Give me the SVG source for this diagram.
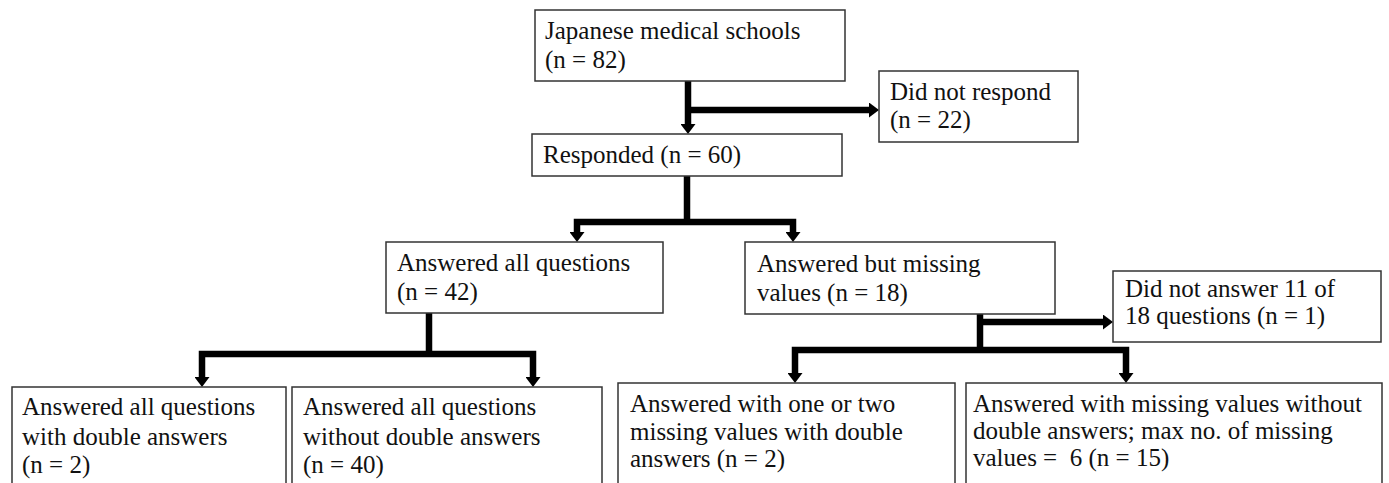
<svg xmlns="http://www.w3.org/2000/svg" width="1389" height="483" viewBox="0 0 1389 483">
<style>
.box{fill:#fff;stroke:#333;stroke-width:1.5}
.t{font-family:"Liberation Serif","Times New Roman",serif;font-size:25px;fill:#111}
.c{fill:none;stroke:#000;stroke-width:6.5;stroke-linejoin:miter}
</style>
<defs>
<marker id="ah" markerUnits="userSpaceOnUse" markerWidth="10" markerHeight="15" viewBox="0 0 10 15" refX="0" refY="7.5" orient="auto">
<path d="M0,0 L10,7.5 L0,15 z" fill="#000"/>
</marker>
</defs>
<rect width="1389" height="483" fill="#fff"/>
<g id="connectors">
<path class="c" d="M688,81 V124" marker-end="url(#ah)"/>
<path class="c" d="M688,110 H869" marker-end="url(#ah)"/>
<path class="c" d="M687,176 V222"/>
<path class="c" d="M687,222 H577 V232" marker-end="url(#ah)"/>
<path class="c" d="M687,222 H793 V232" marker-end="url(#ah)"/>
<path class="c" d="M429,313 V354"/>
<path class="c" d="M429,354 H202 V377" marker-end="url(#ah)"/>
<path class="c" d="M429,354 H533 V377" marker-end="url(#ah)"/>
<path class="c" d="M980,314 V350"/>
<path class="c" d="M980,322 H1103" marker-end="url(#ah)"/>
<path class="c" d="M980,350 H795 V373" marker-end="url(#ah)"/>
<path class="c" d="M980,350 H1126 V373" marker-end="url(#ah)"/>
</g>
<g id="n1"><rect class="box" x="535" y="10" width="310" height="71"/>
<text class="t" x="545" y="39">Japanese medical schools</text><text class="t" x="545" y="68">(n = 82)</text></g>
<g id="n2"><rect class="box" x="879" y="71" width="199" height="71"/>
<text class="t" x="890" y="100">Did not respond</text><text class="t" x="890" y="128">(n = 22)</text></g>
<g id="n3"><rect class="box" x="532" y="134" width="310" height="42"/>
<text class="t" x="543" y="163">Responded (n = 60)</text></g>
<g id="n4"><rect class="box" x="386" y="242" width="277" height="71"/>
<text class="t" x="397" y="271">Answered all questions</text><text class="t" x="397" y="300">(n = 42)</text></g>
<g id="n5"><rect class="box" x="745" y="242" width="310" height="72"/>
<text class="t" x="757" y="272">Answered but missing</text><text class="t" x="757" y="301">values (n = 18)</text></g>
<g id="n6"><rect class="box" x="1113" y="271" width="268" height="71"/>
<text class="t" x="1125" y="297">Did not answer 11 of</text><text class="t" x="1125" y="324">18 questions (n = 1)</text></g>
<g id="n7"><rect class="box" x="12" y="387" width="274" height="110"/>
<text class="t" x="22" y="415">Answered all questions</text><text class="t" x="22" y="445">with double answers</text><text class="t" x="22" y="473">(n = 2)</text></g>
<g id="n8"><rect class="box" x="292" y="387" width="310" height="110"/>
<text class="t" x="303" y="415">Answered all questions</text><text class="t" x="303" y="445">without double answers</text><text class="t" x="303" y="473">(n = 40)</text></g>
<g id="n9"><rect class="box" x="618" y="383" width="337" height="114"/>
<text class="t" x="630" y="412">Answered with one or two</text><text class="t" x="630" y="440">missing values with double</text><text class="t" x="630" y="467">answers (n = 2)</text></g>
<g id="n10"><rect class="box" x="966" y="383" width="416" height="114"/>
<text class="t" x="973" y="412">Answered with missing values without</text><text class="t" x="973" y="439">double answers; max no. of missing</text><text class="t" x="973" y="466">values = &#160;6 (n = 15)</text></g>
</svg>
